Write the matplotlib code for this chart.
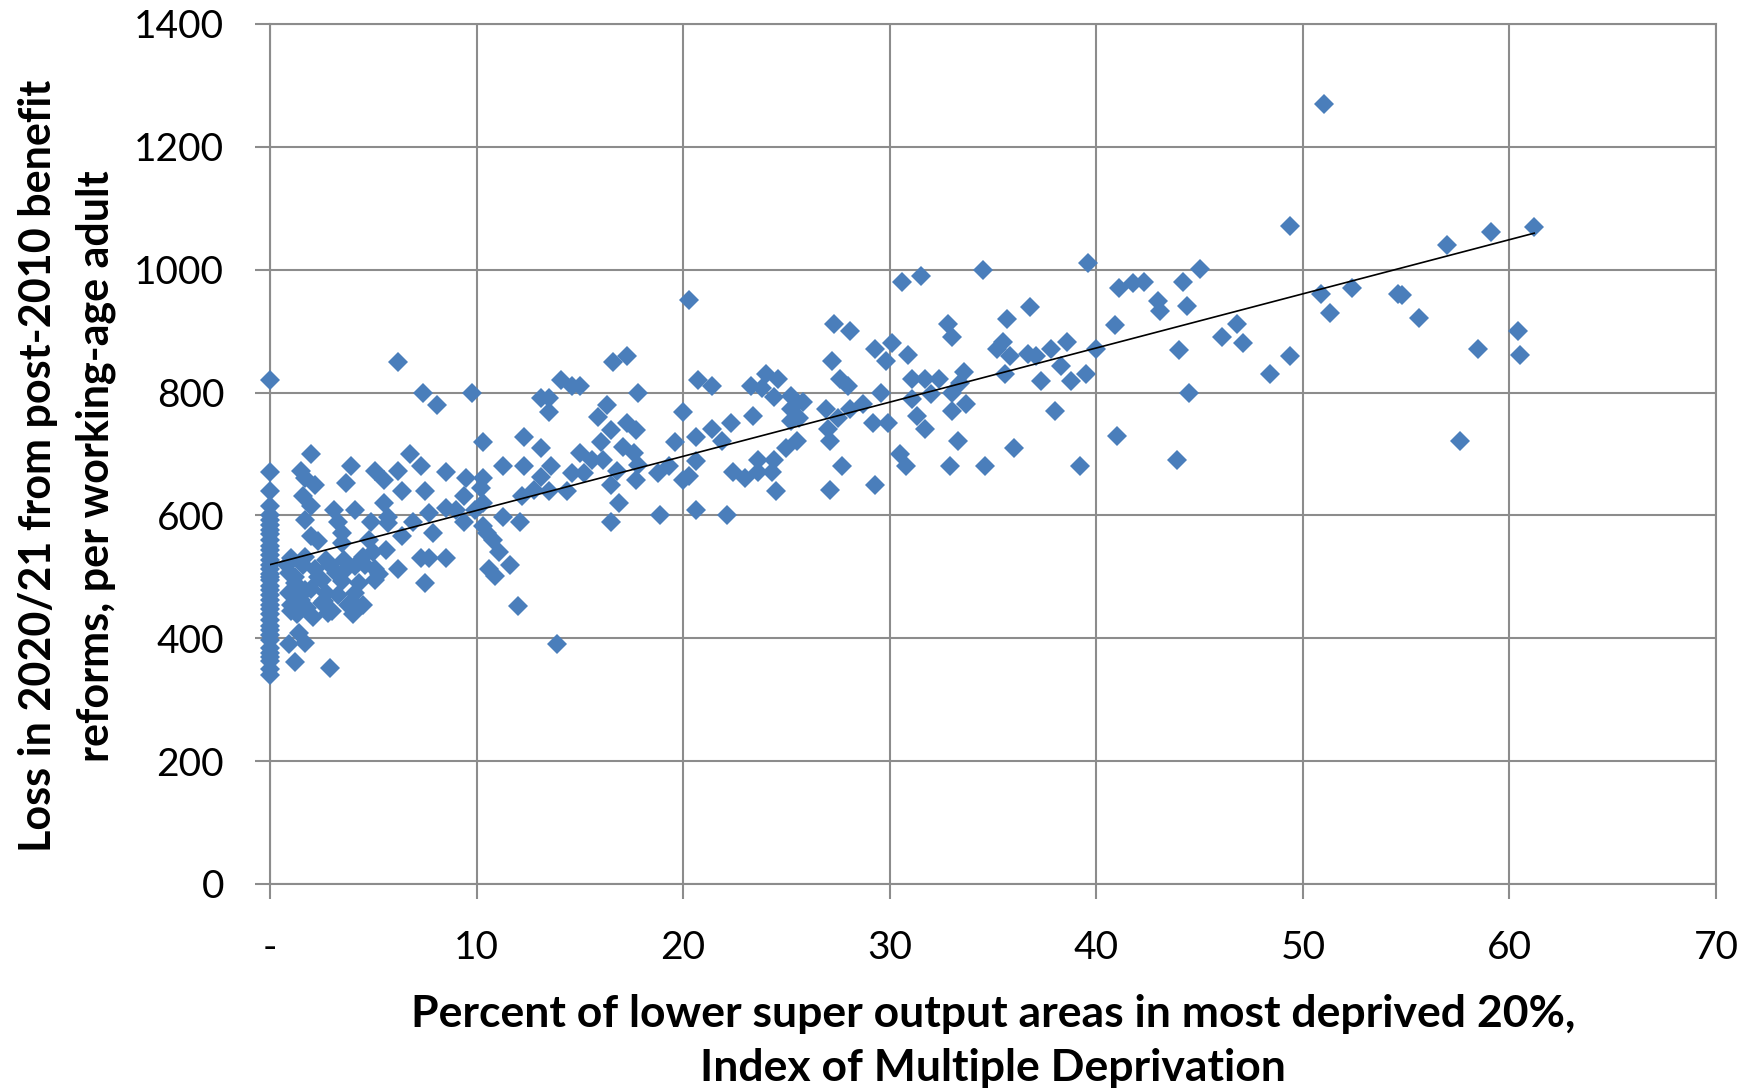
import numpy as np
import matplotlib
matplotlib.use("Agg")
import matplotlib.pyplot as plt

# % of LSOAs in most deprived 20% (IMD) vs loss per working-age adult (GBP)
zero_dep_loss = [820, 670, 640, 615, 593, 577, 560, 544, 528, 512, 495, 479, 463,
                 447, 430, 414, 398, 376, 363, 341, 350, 370, 385, 405, 420, 440,
                 455, 470, 485, 500, 505, 520, 535, 550, 570, 585, 600]

low_dep_pct = [6.2, 7.4, 8.1, 9.8, 2.0, 6.8, 1.5, 3.9, 7.3, 8.5, 5.1, 6.2, 5.5, 2.2,
               1.7, 3.7, 6.4, 7.5, 9.5, 1.6, 2.0, 3.1, 4.1, 5.5, 8.5, 9.4, 9.9, 1.7,
               3.3, 4.9, 5.7, 6.9, 7.7, 9.0, 9.4, 2.0, 3.5, 6.4, 7.9, 2.3, 3.5, 4.8,
               5.6, 1.0, 1.7, 2.7, 3.6, 4.5, 0.9, 2.2, 3.2, 4.1, 5.1, 6.2, 7.3, 7.7,
               8.5, 1.2, 2.5, 3.5, 5.1, 7.5, 0.9, 1.7, 2.7, 4.1, 1.5, 2.5, 1.0, 2.8,
               4.2, 1.4, 0.9, 1.7, 1.2, 2.9, 0.8, 1.2, 1.5, 1.8, 2.0, 2.3, 2.6, 3.0,
               3.3, 3.8, 4.3, 4.6, 5.0, 5.3, 1.0, 1.3, 1.6, 2.1, 2.9, 3.6, 4.0, 4.5,
               5.7]
low_dep_loss = [850, 800, 780, 800, 700, 700, 672, 680, 680, 670, 672, 672, 658, 650,
                661, 652, 639, 639, 661, 631, 615, 609, 609, 620, 612, 631, 609, 593,
                590, 590, 588, 590, 604, 609, 590, 566, 571, 566, 571, 558, 555, 560,
                544, 531, 533, 528, 528, 533, 506, 512, 506, 517, 512, 512, 531, 531,
                531, 490, 495, 493, 495, 490, 474, 479, 474, 474, 463, 457, 444, 441,
                452, 409, 390, 392, 361, 352, 520, 500, 470, 450, 480, 500, 460, 445,
                470, 455, 490, 520, 540, 505, 455, 440, 520, 435, 520, 510, 440, 455,
                598]

mid_dep_pct = [16.6, 17.3, 14.1, 14.6, 15.0, 17.8, 13.1, 13.5, 13.5, 16.3, 15.9, 20.0,
               20.7, 10.3, 12.3, 13.1, 16.5, 17.3, 17.7, 16.0, 17.1, 19.6, 20.6, 15.0,
               15.6, 16.1, 17.6, 11.3, 12.3, 13.6, 14.6, 15.2, 16.8, 17.8, 18.8, 19.3,
               20.6, 10.3, 13.1, 16.5, 17.7, 20.0, 10.2, 12.8, 13.5, 14.4, 12.2, 10.3,
               16.9, 11.3, 12.1, 16.5, 18.9, 20.6, 10.3, 10.5, 10.8, 11.1, 11.6, 10.6,
               10.9, 12.0, 13.9]
mid_dep_loss = [850, 860, 821, 810, 810, 799, 791, 791, 769, 780, 761, 769,
                821, 720, 728, 709, 739, 750, 739, 720, 712, 720, 728, 701,
                690, 690, 701, 680, 680, 680, 669, 669, 672, 682, 669, 680,
                688, 661, 663, 650, 658, 658, 644, 642, 639, 639, 631, 620,
                620, 598, 590, 590, 600, 609, 582, 571, 560, 541, 520, 512,
                501, 452, 391]

upper_dep_pct = [20.3, 30.6, 31.5, 27.3, 28.1, 27.2, 29.3, 30.1, 29.8, 30.9, 21.4, 23.3,
                 24.0, 24.6, 23.8, 27.6, 28.0, 24.4, 25.2, 25.8, 25.2, 25.6, 25.2, 29.6,
                 31.1, 31.7, 31.1, 22.3, 23.4, 26.9, 27.5, 28.1, 28.7, 29.2, 29.9, 31.3,
                 31.7, 21.4, 21.9, 27.0, 27.1, 25.0, 25.5, 20.3, 23.6, 24.4, 22.4, 23.0,
                 23.6, 24.3, 24.5, 30.5, 30.8, 27.7, 27.1, 29.3, 22.1]
upper_dep_loss = [950, 980, 990, 911, 900, 852, 871, 880, 852, 861, 811, 811,
                  830, 822, 808, 822, 811, 792, 795, 784, 773, 759, 754, 800,
                  822, 822, 789, 751, 762, 773, 759, 773, 781, 751, 751, 762,
                  740, 740, 721, 740, 721, 710, 721, 664, 691, 691, 670, 661,
                  670, 670, 640, 700, 680, 680, 641, 650, 600]

high_dep_pct = [34.5, 39.6, 41.1, 41.8, 42.3, 43.0, 43.1, 32.8, 33.0, 35.7, 36.8, 40.9,
                35.2, 35.5, 35.8, 36.7, 37.1, 37.8, 38.6, 40.0, 35.6, 32.4, 33.6, 33.4,
                37.3, 38.3, 38.8, 39.5, 32.0, 33.0, 33.7, 33.0, 38.0, 33.3, 36.0, 32.9,
                34.6, 41.0, 39.2, 49.4, 45.0, 44.2, 44.4, 46.8, 46.1, 47.1, 44.0, 49.4,
                48.4, 44.5, 43.9, 50.9, 51.3, 52.4, 61.2, 59.1, 57.0, 54.6, 54.8, 55.6,
                60.4, 60.5, 58.5, 57.6, 51.0]
high_dep_loss = [1000, 1011, 971, 979, 980, 949, 933, 911, 890, 920, 940, 910,
                 871, 882, 860, 862, 860, 871, 882, 871, 830, 822, 833, 816,
                 819, 843, 819, 830, 797, 800, 781, 770, 770, 721, 710, 680,
                 680, 730, 680, 1071, 1001, 980, 941, 911, 891, 880, 870, 860,
                 831, 800, 690, 960, 930, 971, 1070, 1061, 1041, 961, 959, 921,
                 901, 861, 871, 721, 1270]

x_ticks = [0, 10, 20, 30, 40, 50, 60, 70]
x_tick_labels = ["-", "10", "20", "30", "40", "50", "60", "70"]
y_ticks = [0, 200, 400, 600, 800, 1000, 1200, 1400]

pct = np.array([0.0] * len(zero_dep_loss) + low_dep_pct + mid_dep_pct
               + upper_dep_pct + high_dep_pct)
loss = np.array(zero_dep_loss + low_dep_loss + mid_dep_loss
                + upper_dep_loss + high_dep_loss, dtype=float)

grid_col = "#8c8c8c"

fig = plt.figure(figsize=(17.44, 10.92), dpi=100)
ax = fig.add_axes([270 / 1744, 1 - 884 / 1092, (1716 - 270) / 1744, (884 - 24) / 1092])

ax.plot(pct, loss, linestyle="none", marker="D", markersize=10.6,
        markerfacecolor="#4a7ebb", markeredgewidth=0, zorder=3, clip_on=False)

# linear trend line
slope, intercept = np.polyfit(pct, loss, 1)
xs = np.array([pct.min(), pct.max()])
ax.plot(xs, slope * xs + intercept, color="black", linewidth=1.2, zorder=4)

ax.set_xlim(0, 70)
ax.set_ylim(0, 1400)
ax.set_xticks(x_ticks)
ax.set_xticklabels(x_tick_labels)
ax.set_yticks(y_ticks)
ax.grid(True, color=grid_col, linewidth=1.5, zorder=0)
ax.set_axisbelow(True)
for sp in ax.spines.values():
    sp.set_color(grid_col)
    sp.set_linewidth(1.5)
ax.tick_params(axis="both", direction="out", length=11, width=1.5, color=grid_col,
               labelsize=28, pad=22)
for lbl in ax.get_xticklabels() + ax.get_yticklabels():
    lbl.set_fontfamily("Lato")

fig.text(993 / 1744, 1 - 1041 / 1092,
         "Percent of lower super output areas in most deprived 20%,\nIndex of Multiple Deprivation",
         ha="center", va="center", fontsize=32, fontweight="bold",
         family="Lato", linespacing=1.4)
fig.text(67 / 1744, 1 - 466 / 1092,
         "Loss in 2020/21 from post-2010 benefit\nreforms, per working-age adult",
         ha="center", va="center", rotation=90, fontsize=31, fontweight="bold",
         family="Lato", linespacing=1.55)

fig.savefig("out.png", dpi=100)
